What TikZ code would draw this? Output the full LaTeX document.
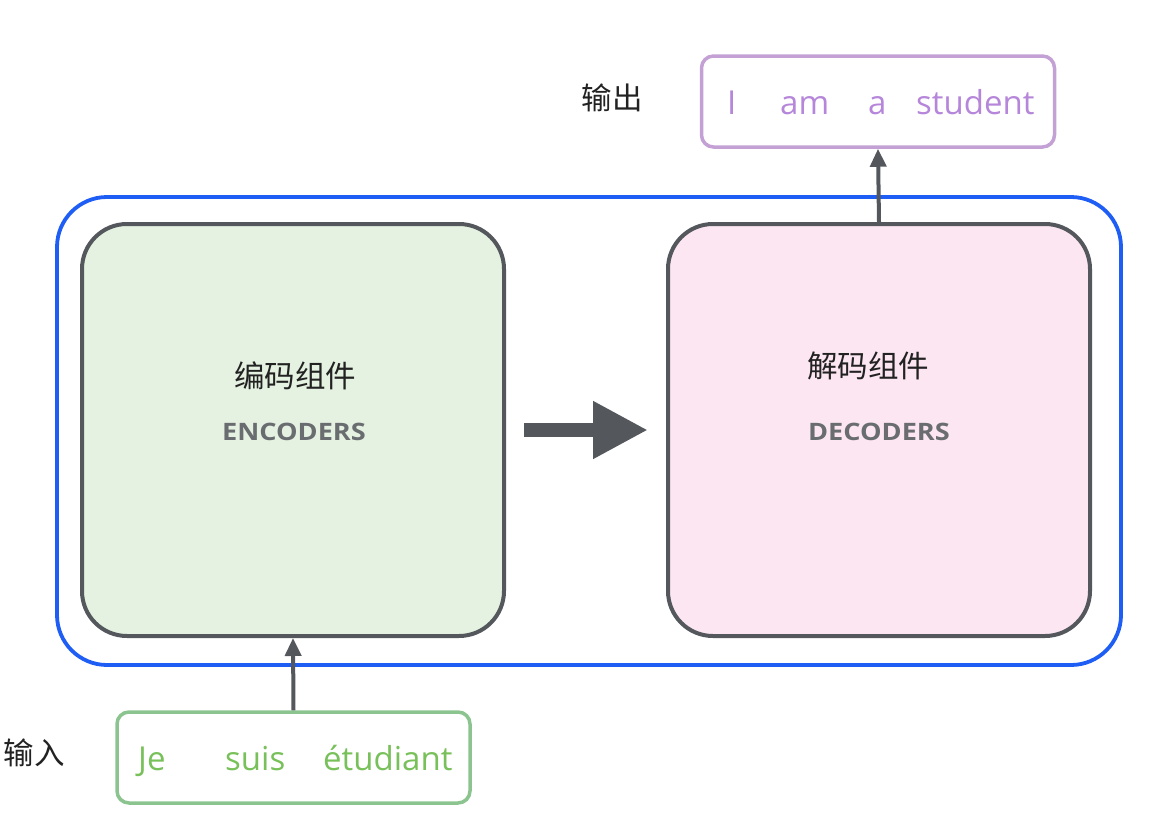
\documentclass[tikz,border=0pt]{standalone}
\usepackage{fontspec}
\setmainfont{Open Sans}
\newfontfamily\capfont[FakeStretch=1.13]{Open Sans}
\newfontfamily\cjk{Noto Sans CJK SC}
\usetikzlibrary{arrows.meta}
\definecolor{bluebox}{HTML}{1F5EF5}
\definecolor{graybox}{HTML}{54585D}
\definecolor{encfill}{HTML}{E5F2E1}
\definecolor{decfill}{HTML}{FCE6F2}
\definecolor{outline}{HTML}{C3A1D4}
\definecolor{outtext}{HTML}{B586D9}
\definecolor{inline}{HTML}{8CC48F}
\definecolor{intext}{HTML}{78C05A}
\definecolor{captext}{HTML}{6A6D70}
\definecolor{cjktext}{HTML}{222222}
\tikzset{
  outerbox/.style={draw=bluebox, line width=3.8pt, rounded corners=50pt, minimum width=1064pt, minimum height=468pt},
  stackbox/.style={draw=graybox, line width=4pt, rounded corners=45pt, minimum width=422pt, minimum height=412pt},
  wordbox/.style={line width=3.5pt, rounded corners=12pt, minimum width=353pt, minimum height=91pt, inner sep=0pt},
  cjklabel/.style={font=\cjk\fontsize{30.5}{35}\selectfont, text=cjktext, inner sep=0pt},
  caplabel/.style={font=\capfont\bfseries\fontsize{24}{28}\selectfont, text=captext, inner sep=0pt},
  outword/.style={font=\fontsize{33}{38}\selectfont, text=outtext, inner sep=0pt, anchor=base west},
  inword/.style={font=\fontsize{33}{38}\selectfont, text=intext, inner sep=0pt, anchor=base west},
  uparrow/.style={draw=graybox, line width=4pt, -{Triangle[width=16pt,length=18pt]}},
}
\begin{document}
\begin{tikzpicture}[x=1pt,y=-1pt]
\useasboundingbox (0,0) rectangle (1157,817);
\node[outerbox] (outer) at (589,431) {};
\node[stackbox, fill=encfill] (enc) at (293,430) {};
\node[stackbox, fill=decfill] (dec) at (879,430) {};
\node[wordbox, draw=outline] (out) at (878,101.5) {};
\node[wordbox, draw=inline] (in) at (293.5,757.5) {};
% texts
\node[cjklabel] (enccn) at (295,376) {编码组件};
\node[caplabel] (encen) at (294,432) {ENCODERS};
\node[cjklabel] (deccn) at (868,366) {解码组件};
\node[caplabel] (decen) at (879,432) {DECODERS};
\node[cjklabel] (outlbl) at (612,98) {输出};
\node[cjklabel] (inlbl) at (34,753) {输入};
\node[outword] (w1) at (727,114) {I};
\node[outword] (w2) at (780,114) {am};
\node[outword] (w3) at (868,114) {a};
\node[outword] (w4) at (916,114) {student};
\node[inword] (v1) at (138,770) {Je};
\node[inword] (v2) at (225,770) {suis};
\node[inword] (v3) at (323,770) {étudiant};
% connectors
\draw[uparrow] (in.north) -- (enc.south);
\draw[uparrow] (dec.north) -- (out.south);
\draw[draw=graybox, line width=14pt, -{Triangle[width=54pt,length=55pt]}] ([xshift=18pt]enc.east) -- ([xshift=-18pt]dec.west);
\end{tikzpicture}
\end{document}
